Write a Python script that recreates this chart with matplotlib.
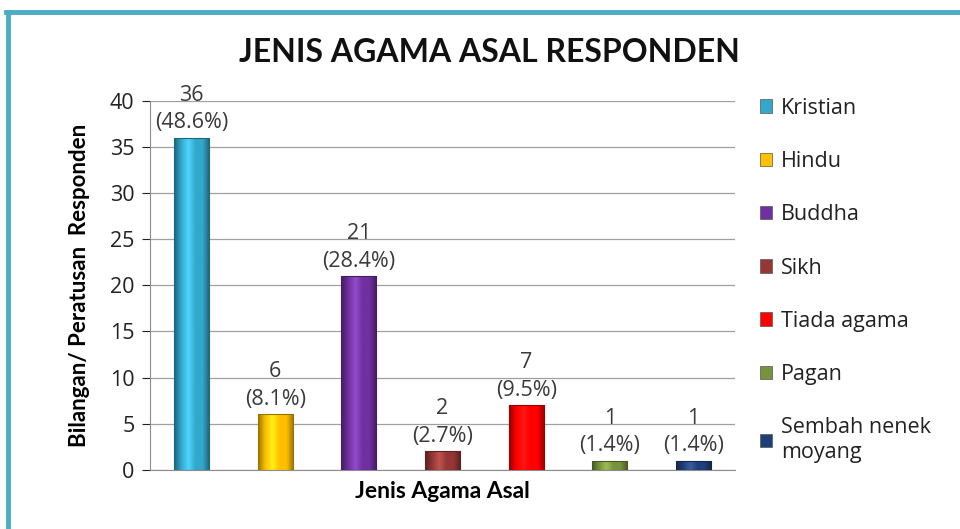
import numpy as np
import matplotlib
matplotlib.use("Agg")
import matplotlib.pyplot as plt
from matplotlib.colors import to_rgb, LinearSegmentedColormap
from matplotlib.patches import Rectangle
from matplotlib.lines import Line2D

plt.rcParams['font.family'] = ['Open Sans', 'DejaVu Sans']

categories = ['Kristian', 'Hindu', 'Buddha', 'Sikh', 'Tiada agama', 'Pagan',
              'Sembah nenek\nmoyang']
counts = [36, 6, 21, 2, 7, 1, 1]
percents = ['48.6%', '8.1%', '28.4%', '2.7%', '9.5%', '1.4%', '1.4%']
colors = ['#33A8CB', '#FFC000', '#7030A0', '#953735', '#FF0000', '#77933C', '#1F3F7A']
yticks = [0, 5, 10, 15, 20, 25, 30, 35, 40]

fig = plt.figure(figsize=(9.6, 5.29), dpi=100)
ax = fig.add_axes([0.156, 0.112, 0.610, 0.697])

x = np.arange(len(categories))
bw = 0.42
bars = ax.bar(x, counts, width=bw, color=colors, edgecolor='none', zorder=3)

# cylinder-ish shading inside each bar
for b, c in zip(bars, colors):
    r, g, bl = to_rgb(c)
    light = tuple(min(1, v * 1.15 + 0.08) for v in (r, g, bl))
    dark = tuple(v * 0.6 for v in (r, g, bl))
    cmap = LinearSegmentedColormap.from_list('s', [dark, c, light, c, c, dark])
    grad = np.linspace(0, 1, 64).reshape(1, -1)
    x0, w, h = b.get_x(), b.get_width(), b.get_height()
    im = ax.imshow(grad, cmap=cmap, aspect='auto', extent=[x0, x0 + w, 0, h],
                   zorder=3.5, interpolation='bicubic')
    im.set_clip_path(b)
    ax.add_patch(Rectangle((x0, 0), w, h, fill=False, edgecolor=dark, lw=0.8, zorder=4))

for xi, v, p in zip(x, counts, percents):
    ax.text(xi, v + 0.5, f'{v}\n({p})', ha='center', va='bottom', fontsize=15.5,
            color='#3a3a3a', linespacing=1.4, zorder=5)

ax.set_xlim(-0.5, len(categories) - 0.5)
ax.set_ylim(0, 40)
ax.set_yticks(yticks)
ax.tick_params(axis='y', labelsize=15.5, colors='#222222', length=6, width=0.8,
               direction='out', pad=5)
ax.set_xticks([])
ax.grid(axis='y', color='#a0a0a0', lw=0.9, zorder=0)
for s in ['top', 'right']:
    ax.spines[s].set_visible(False)
ax.spines['left'].set_color('#8c8c8c')
ax.spines['bottom'].set_color('#8c8c8c')

ax.set_xlabel('Jenis Agama Asal', fontsize=16.5, fontweight='bold', labelpad=8,
              family=['Lato', 'DejaVu Sans'])
ax.set_ylabel('Bilangan/ Peratusan  Responden', fontsize=16, fontweight='bold', labelpad=14,
              family=['Lato', 'DejaVu Sans'])

fig.text(0.51, 0.90, 'JENIS AGAMA ASAL RESPONDEN', ha='center', va='center',
         fontsize=23, fontweight='bold', color='#111111', family=['Lato', 'DejaVu Sans'])

handles = [Rectangle((0, 0), 1, 1, facecolor=c, edgecolor='#555555', lw=0.5) for c in colors]
leg = fig.legend(handles, categories, loc='upper left', bbox_to_anchor=(0.771, 0.852),
                 frameon=False, fontsize=15.5, handlelength=0.6, handleheight=0.6,
                 handletextpad=0.4, labelspacing=1.5)
for t in leg.get_texts():
    t.set_color('#222222')

# frame lines at top and left
fig.add_artist(Line2D([0.006, 1], [0.977, 0.977], color='#4BACC6', lw=3.5))
fig.add_artist(Line2D([0.008, 0.008], [0, 0.977], color='#4BACC6', lw=3.5))

fig.savefig('out.png', dpi=100)
